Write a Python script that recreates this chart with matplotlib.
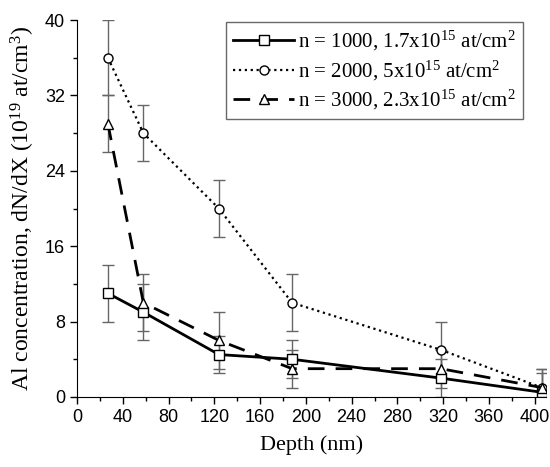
import matplotlib.pyplot as plt
from matplotlib.ticker import MultipleLocator

plt.rcParams['mathtext.default'] = 'regular'

depth = [27, 58, 124, 188, 318, 406]

conc_1000 = [11, 9, 4.5, 4, 2, 0.5]
err_1000 = [3, 3, 2, 2, 2, 2]
conc_2000 = [36, 28, 20, 10, 5, 1]
err_2000 = [4, 3, 3, 3, 3, 2]
conc_3000 = [29, 10, 6, 3, 3, 1]
err_3000 = [3, 3, 3, 2, 2, 2]

labels = ['n = 1000, 1.7x10$^{15}$ at/cm$^{2}$',
          'n = 2000, 5x10$^{15}$ at/cm$^{2}$',
          'n = 3000, 2.3x10$^{15}$ at/cm$^{2}$']

fig = plt.figure(figsize=(5.5, 4.67), dpi=100)
ax = fig.add_axes([0.14, 0.15, 0.853, 0.807])

ekw = dict(ecolor='#666666', elinewidth=1, capsize=4, capthick=1)
ax.errorbar(depth, conc_1000, yerr=err_1000, fmt='none', zorder=1, **ekw)
ax.errorbar(depth, conc_2000, yerr=err_2000, fmt='none', zorder=1, **ekw)
ax.errorbar(depth, conc_3000, yerr=err_3000, fmt='none', zorder=1, **ekw)

ax.plot(depth, conc_1000, '-', color='black', lw=2, marker='s', ms=6.5,
        mfc='white', mec='black', mew=1, label=labels[0], zorder=3)
ax.plot(depth, conc_2000, ':', color='black', lw=1.6, marker='o', ms=6.5,
        mfc='white', mec='black', mew=1, label=labels[1], zorder=3)
ax.plot(depth, conc_3000, color='black', lw=2, ls=(0, (6, 4)), marker='^', ms=6.5,
        mfc='white', mec='black', mew=1, label=labels[2], zorder=3)

ax.set_xlim(0, 410)
ax.set_ylim(0, 40)
ax.xaxis.set_major_locator(MultipleLocator(40))
ax.xaxis.set_minor_locator(MultipleLocator(20))
ax.yaxis.set_major_locator(MultipleLocator(8))
ax.yaxis.set_minor_locator(MultipleLocator(4))
ax.spines['top'].set_visible(False)
ax.spines['right'].set_visible(False)
ax.tick_params(which='major', direction='out', length=5, width=1, labelsize=13)
ax.tick_params(which='minor', direction='out', length=3, width=1)
for lab in ax.get_xticklabels() + ax.get_yticklabels():
    lab.set_fontfamily('Liberation Sans')

ax.set_xlabel('Depth (nm)', family='Liberation Serif', fontsize=16, labelpad=7)
ax.set_ylabel('Al concentration, dN/dX (10$^{19}$ at/cm$^{3}$)',
              family='Liberation Serif', fontsize=17, labelpad=6)

leg = ax.legend(loc='upper right', bbox_to_anchor=(0.951, 0.995), borderaxespad=0,
                frameon=True, fancybox=False, edgecolor='#444444', borderpad=0.35,
                handlelength=2.9, handletextpad=0.2, labelspacing=0.25,
                prop={'family': 'Liberation Serif', 'size': 15})
leg.get_frame().set_linewidth(1)

fig.savefig('out.png', dpi=100)
